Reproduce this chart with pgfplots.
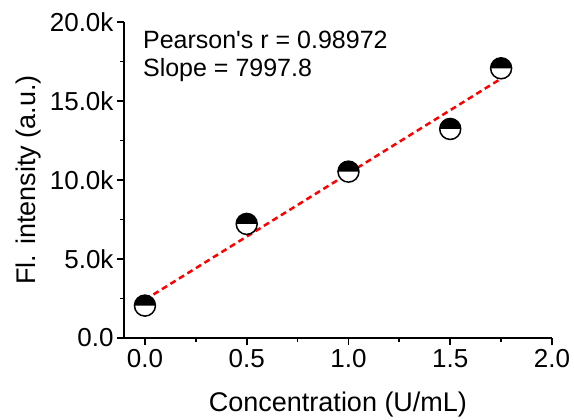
\documentclass[border=0pt]{standalone}
\usepackage{fontspec}
\setmainfont{Liberation Sans}
\usepackage{pgfplots}
\pgfplotsset{compat=1.18}
\pgfdeclareplotmark{halfblack}{%
  \pgfpathcircle{\pgfpointorigin}{\pgfplotmarksize}%
  \pgfsetfillcolor{white}%
  \pgfusepathqfill
  \pgfpathmoveto{\pgfpoint{\pgfplotmarksize}{0pt}}%
  \pgfpatharc{0}{180}{\pgfplotmarksize}%
  \pgfpathclose
  \pgfsetfillcolor{black}%
  \pgfusepathqfill
  \pgfpathcircle{\pgfpointorigin}{\pgfplotmarksize}%
  \pgfusepathqstroke
}
\begin{document}
\begin{tikzpicture}
\begin{axis}[
  scale only axis, width=428pt, height=316pt,
  xmin=-0.103, xmax=2.0, ymin=0, ymax=20000,
  axis lines=left, axis line style={-, line width=1.8pt, black},
  tick align=outside, major tick length=7pt, minor tick length=4pt,
  every tick/.style={black, line width=1.8pt},
  xtick={0,0.5,1,1.5,2}, minor xtick={0.25,0.75,1.25,1.75},
  ytick={0,5000,10000,15000,20000}, yticklabels={0.0,5.0k,10.0k,15.0k,20.0k},
  minor ytick={2500,7500,12500,17500},
  /pgf/number format/assume math mode=true,
  xticklabel style={/pgf/number format/fixed, /pgf/number format/fixed zerofill, /pgf/number format/precision=1, yshift=-1pt},
  tick label style={font=\fontsize{26}{30}\selectfont},
  scaled y ticks=false, scaled x ticks=false,
  xlabel={Concentration (U/mL)}, ylabel={Fl. intensity (a.u.)},
  label style={font=\fontsize{27}{32}\selectfont},
  xlabel style={at={(axis description cs:0.5,-0.209)}, anchor=center},
  ylabel style={at={(axis description cs:-0.222,0.5)}, anchor=center},
  clip=false,
]
\addplot[only marks, mark=halfblack, mark size=10.5pt, mark options={line width=1.5pt, draw=black}]
  coordinates {(0,2050) (0.5,7220) (1,10530) (1.5,13230) (1.75,17070)};
\addplot[red, line width=2.5pt, dash pattern=on 6pt off 4pt, no marks]
  coordinates {(0,2422) (1.75,16418)};
\node[anchor=base west, font=\fontsize{25}{30}\selectfont, inner sep=0pt] at (axis cs:-0.01,18291) {Pearson\textquotesingle s r = 0.98972};
\node[anchor=base west, font=\fontsize{25}{30}\selectfont, inner sep=0pt] at (axis cs:-0.01,16519) {Slope = 7997.8};
\end{axis}
\path (-124pt,-81pt) rectangle (450pt,338pt);
\end{tikzpicture}
\end{document}
